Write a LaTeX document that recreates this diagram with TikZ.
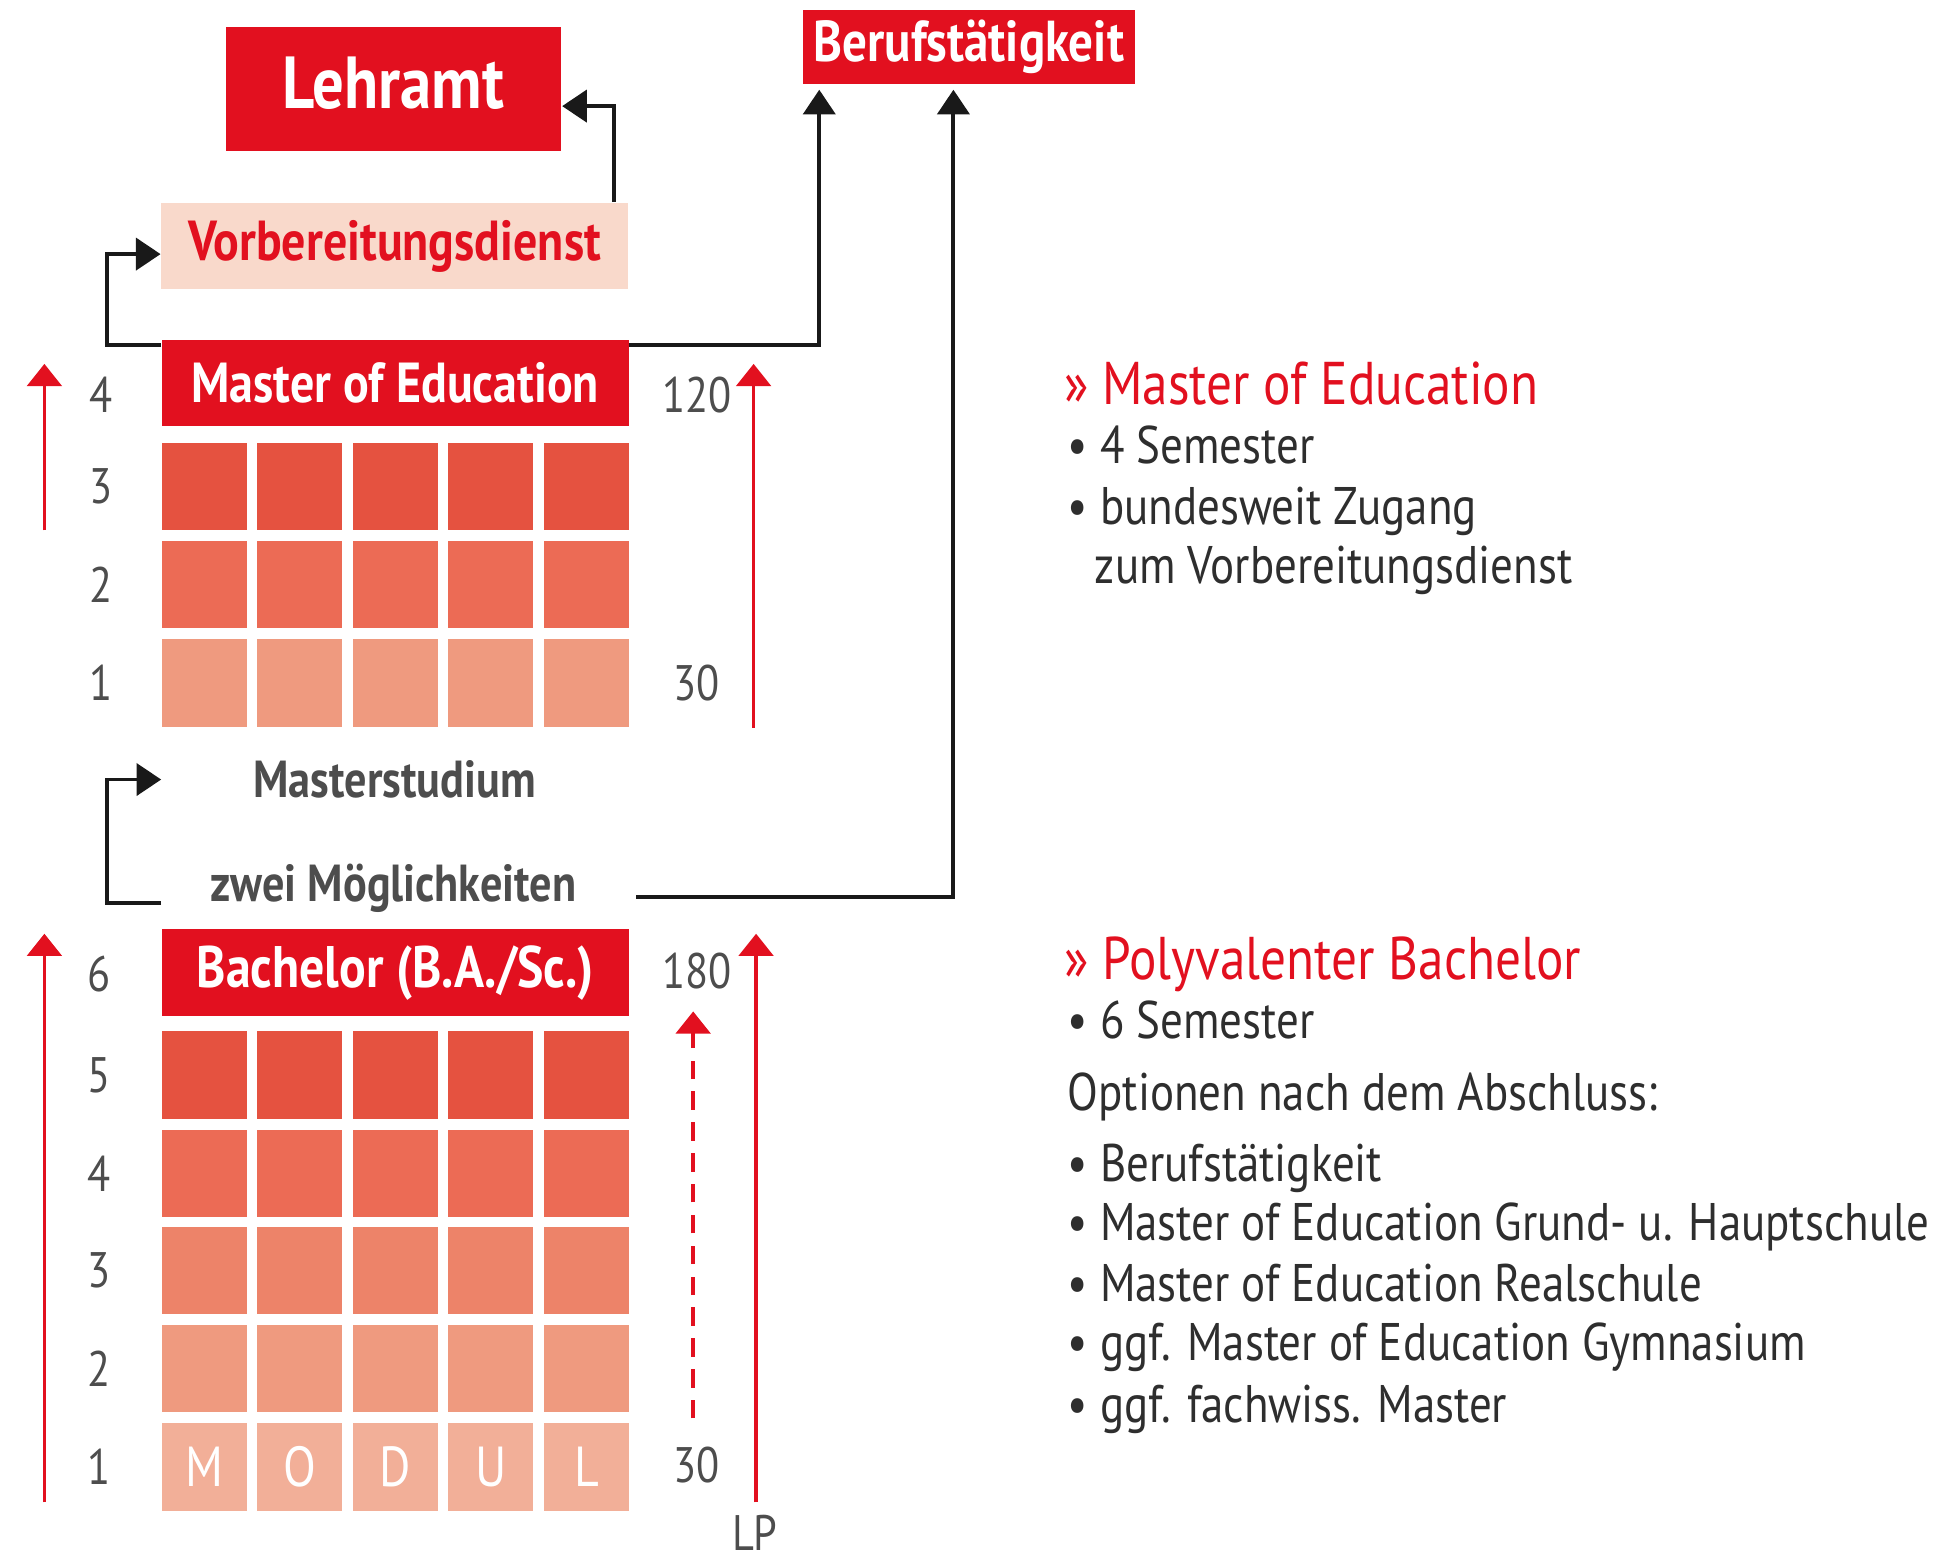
\documentclass[tikz,border=0pt]{standalone}
\usepackage{fontspec}
\setmainfont[FakeStretch=0.85]{PT Sans}
\usetikzlibrary{arrows.meta,positioning}
\definecolor{unirot}{HTML}{E2101F}
\definecolor{vdrosa}{HTML}{F9D9CB}
\definecolor{stufeA}{HTML}{F2AF98}
\definecolor{stufeB}{HTML}{EF9A7F}
\definecolor{stufeC}{HTML}{ED8369}
\definecolor{stufeD}{HTML}{EC6B55}
\definecolor{stufeE}{HTML}{E55240}
\definecolor{schrift}{HTML}{4D4D4D}
\definecolor{fliess}{HTML}{2E2E2E}
\tikzset{
  box/.style={fill=unirot, text=white, font=\bfseries\fontsize{13}{15}\selectfont, minimum width=3.78cm, minimum height=0.7cm, inner sep=0pt},
  zelle/.style={minimum width=0.69cm, minimum height=0.71cm, inner sep=0pt, text=white, font=\fontsize{13}{15}\selectfont},
  zahl/.style={text=schrift, font=\fontsize{11.5}{14}\selectfont},
  hinweis/.style={text=schrift, font=\bfseries\fontsize{12}{14}\selectfont},
  weg/.style={draw=black!90, line width=0.9pt, -{Triangle[length=0.2cm,width=0.26cm]}},
  lp/.style={draw=unirot, line width=0.8pt, -{Triangle[length=0.18cm,width=0.28cm]}},
  kopf/.style={anchor=base west, inner sep=0pt, text=unirot, font=\fontsize{13.9}{16}\selectfont},
  punkt/.style={anchor=base west, inner sep=0pt, text=fliess, font=\fontsize{12.2}{14}\selectfont},
}
\begin{document}
\begin{tikzpicture}[x=0.01cm, y=-0.01cm]
  \useasboundingbox (0,0) rectangle (1568,1262);

  \foreach \z/\farbe/\y in {1/stufeB/553.5, 2/stufeD/474, 3/stufeE/394.5} {
    \node[zahl] (mz\z) at (82,\y) {\z};
    \foreach \s in {0,...,4}
      \node[zelle, fill=\farbe] (m\z-\s) at (165.5+77.5*\s,\y) {};
  }
  \foreach \z/\farbe/\y in {2/stufeB/1109.5, 3/stufeC/1030, 4/stufeD/951.5, 5/stufeE/871.5} {
    \node[zahl] (bz\z) at (80,\y) {\z};
    \foreach \s in {0,...,4}
      \node[zelle, fill=\farbe] (b\z-\s) at (165.5+77.5*\s,\y) {};
  }
  \node[zahl] (bz1) at (80,1189.5) {1};
  \foreach \s/\b in {0/M,1/O,2/D,3/U,4/L}
    \node[zelle, fill=stufeA] (b1-\s) at (165.5+77.5*\s,1189.5) {\b};

  \node[box] (meb) [above=0.12cm of m3-2] {Master of Education};
  \node[box, fill=vdrosa, text=unirot] (vorb) at (320,199.5) {Vorbereitungsdienst};
  \node[box, minimum width=2.72cm, minimum height=1cm, font=\bfseries\fontsize{17}{20}\selectfont] (lehramt) at (319,72) {\raisebox{0.1cm}{Lehramt}};
  \node[box, minimum width=2.69cm, minimum height=0.6cm, font=\bfseries\fontsize{13.3}{15}\selectfont] (beruf) at (785.5,38) {Berufstätigkeit};
  \node[hinweis] (mstud) at (320,632) {Masterstudium};
  \node[hinweis] (zwei) at (319,720) {zwei Möglichkeiten};
  \node[box, font=\bfseries\fontsize{13.5}{15}\selectfont] (ba) [above=0.11cm of b5-2] {Bachelor (B.A./Sc.)};

  \node[zahl] (mz4) at (82,320) {4};
  \node[zahl] (bz6) at (80,790) {6};
  \node[zahl] (mlp1) at (565,320) {120};
  \node[zahl] (mlp0) at (565,554) {30};
  \node[zahl] (blp1) at (565,787) {180};
  \node[zahl] (blp0) at (565,1188) {30};
  \node[zahl, inner sep=0pt] (lp) at (612,1243) {LP};

  \coordinate (zl) at ([yshift=-0.12cm]zwei.center);
  \coordinate (zr) at ([xshift=0.36cm,yshift=-0.07cm]zwei.east);
  \draw[weg] ([yshift=-0.05cm]meb.north west) -- ++(-44,0) |- ([yshift=-0.065cm]vorb.west);
  \draw[weg] ([xshift=-0.12cm]vorb.north east) |- ([yshift=-0.14cm]lehramt.east);
  \draw[weg, shorten >=0.04cm] ([yshift=-0.05cm]meb.north east) -| ([xshift=0.14cm]beruf.south west);
  \draw[weg, shorten >=0.04cm] (zr) -| ([xshift=-0.125cm]beruf.south);
  \draw[weg] (ba.west |- zl) -- ++(-44,0) |- (ba.west |- mstud);

  \coordinate (lm0) at (36,430);
  \coordinate (lm1) at (36,295);
  \coordinate (rm0) at (611,590);
  \coordinate (rm1) at (611,295);
  \coordinate (lb0) at (36,1218);
  \coordinate (lb1) at (36,757);
  \coordinate (rb0) at (613,1218);
  \coordinate (rb1) at (613,757);
  \coordinate (db0) at (562,1150);
  \coordinate (db1) at (562,820);
  \draw[lp] (lm0) -- (lm1);
  \draw[lp] (rm0) -- (rm1);
  \draw[lp] (lb0) -- (lb1);
  \draw[lp] (rb0) -- (rb1);
  \draw[lp, dash pattern=on 0.15cm off 0.1cm] (db0) -- (db1);

  \node[kopf] (mkopf) at (862,328) {» Master of Education};
  \node[punkt] (mp1) at (865,376) {• 4 Semester};
  \node[punkt] (mp2) at (865,425) {• bundesweit Zugang};
  \node[punkt] (mp3) at (887,473) {zum Vorbereitungsdienst};
  \node[kopf] (bkopf) at (862,794) {» Polyvalenter Bachelor};
  \node[punkt] (bp1) at (865,842) {• 6 Semester};
  \node[punkt] (bp2) at (865,900) {Optionen nach dem Abschluss:};
  \node[punkt] (bp3) at (865,958) {• Berufstätigkeit};
  \node[punkt] (bp4) at (865,1006) {• Master of Education Grund- u. Hauptschule};
  \node[punkt] (bp5) at (865,1055) {• Master of Education Realschule};
  \node[punkt] (bp6) at (865,1103) {• ggf. Master of Education Gymnasium};
  \node[punkt] (bp7) at (865,1153) {• ggf. fachwiss. Master};
\end{tikzpicture}
\end{document}
